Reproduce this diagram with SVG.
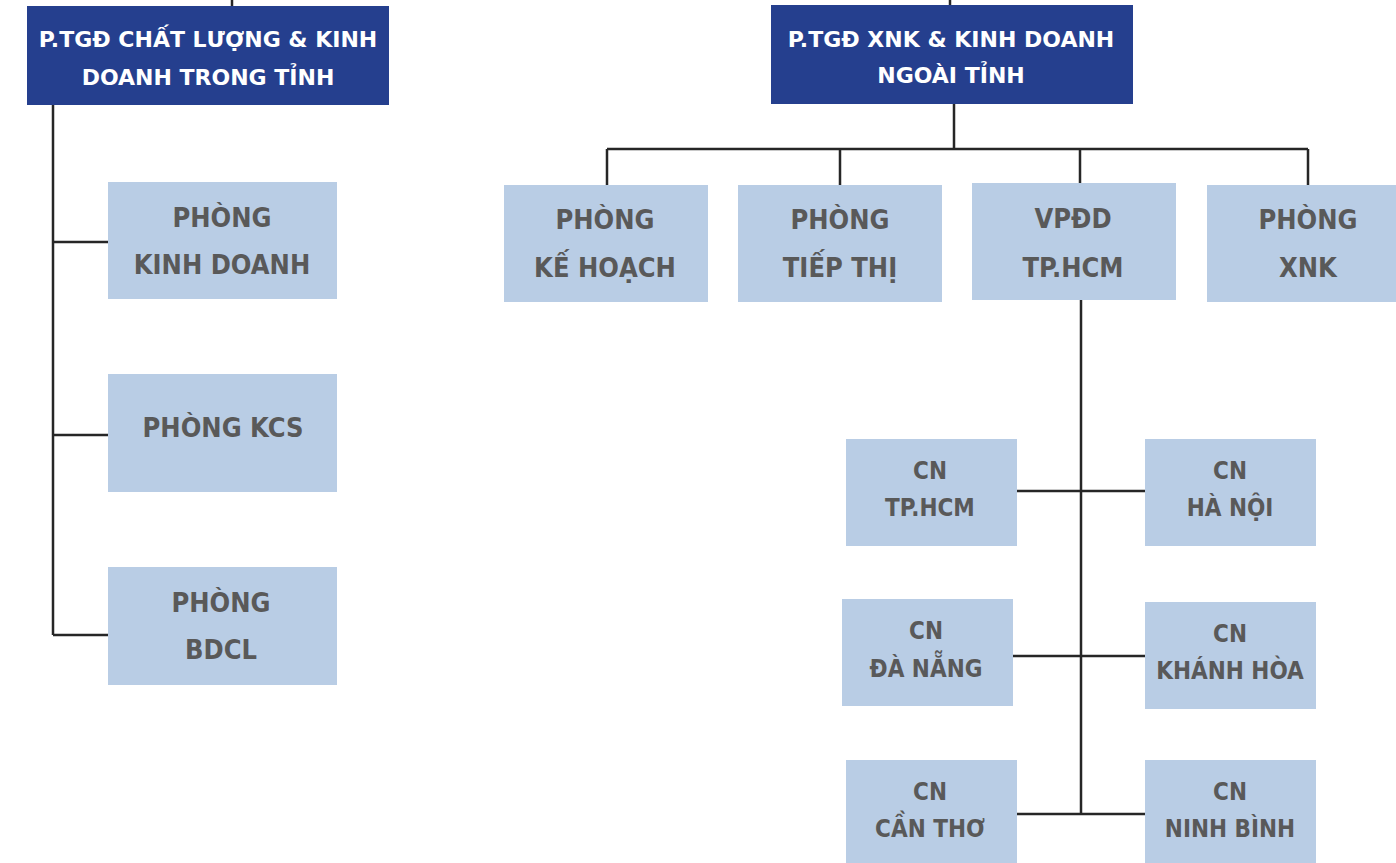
<svg xmlns="http://www.w3.org/2000/svg" width="1396" height="863" viewBox="0 0 1396 863">
<style>
.hd{fill:#253F8E}
.bx{fill:#B9CDE5}
.ht{font-family:"DejaVu Sans",sans-serif;font-weight:bold;font-size:22px;fill:#FFFFFF;text-anchor:middle}
.t{font-family:"DejaVu Sans Condensed","DejaVu Sans",sans-serif;font-stretch:condensed;font-weight:bold;font-size:27px;fill:#595959;text-anchor:middle}
.c{font-family:"DejaVu Sans Condensed","DejaVu Sans",sans-serif;font-stretch:condensed;font-weight:bold;font-size:24px;fill:#595959;text-anchor:middle}
.ln{stroke:#262626;stroke-width:2.5;fill:none}
</style>
<rect width="1396" height="863" fill="#FFFFFF"/>
<g id="connectors" class="ln">
<path d="M232 0V6"/>
<path d="M950 0V5"/>
<path d="M53 105V635M53 242H108M53 435H108M53 635H108"/>
<path d="M954 104V149M607 149H1308M607 149V185M840 149V185M1080 149V183M1308 149V185"/>
<path d="M1081 300V814M1017 491H1145M1013 656H1145M1017 814H1145"/>
</g>
<g id="hd1"><rect class="hd" x="27" y="6" width="362" height="99"/><text class="ht" x="208" y="47">P.TGĐ CHẤT LƯỢNG &amp; KINH</text><text class="ht" x="208" y="85">DOANH TRONG TỈNH</text></g>
<g id="hd2"><rect class="hd" x="771" y="5" width="362" height="99"/><text class="ht" x="951" y="47">P.TGĐ XNK &amp; KINH DOANH</text><text class="ht" x="951" y="83">NGOÀI TỈNH</text></g>
<g id="kd"><rect class="bx" x="108" y="182" width="229" height="117"/><text class="t" x="222" y="227">PHÒNG</text><text class="t" x="222" y="274">KINH DOANH</text></g>
<g id="kcs"><rect class="bx" x="108" y="374" width="229" height="118"/><text class="t" x="223" y="437">PHÒNG KCS</text></g>
<g id="bdcl"><rect class="bx" x="108" y="567" width="229" height="118"/><text class="t" x="221" y="612">PHÒNG</text><text class="t" x="221" y="659">BDCL</text></g>
<g id="kh"><rect class="bx" x="504" y="185" width="204" height="117"/><text class="t" x="605" y="229">PHÒNG</text><text class="t" x="605" y="277">KẾ HOẠCH</text></g>
<g id="tt"><rect class="bx" x="738" y="185" width="204" height="117"/><text class="t" x="840" y="229">PHÒNG</text><text class="t" x="840" y="277">TIẾP THỊ</text></g>
<g id="vpdd"><rect class="bx" x="972" y="183" width="204" height="117"/><text class="t" x="1073" y="228">VPĐD</text><text class="t" x="1073" y="277">TP.HCM</text></g>
<g id="xnk"><rect class="bx" x="1207" y="185" width="189" height="117"/><text class="t" x="1308" y="229">PHÒNG</text><text class="t" x="1308" y="277">XNK</text></g>
<g id="cnhcm"><rect class="bx" x="846" y="439" width="171" height="107"/><text class="c" x="930" y="479">CN</text><text class="c" x="930" y="516">TP.HCM</text></g>
<g id="cnhn"><rect class="bx" x="1145" y="439" width="171" height="107"/><text class="c" x="1230" y="479">CN</text><text class="c" x="1230" y="516">HÀ NỘI</text></g>
<g id="cndn"><rect class="bx" x="842" y="599" width="171" height="107"/><text class="c" x="926" y="639">CN</text><text class="c" x="926" y="677">ĐÀ NẴNG</text></g>
<g id="cnkh"><rect class="bx" x="1145" y="602" width="171" height="107"/><text class="c" x="1230" y="642">CN</text><text class="c" x="1230" y="679">KHÁNH HÒA</text></g>
<g id="cnct"><rect class="bx" x="846" y="760" width="171" height="103"/><text class="c" x="930" y="800">CN</text><text class="c" x="930" y="837">CẦN THƠ</text></g>
<g id="cnnb"><rect class="bx" x="1145" y="760" width="171" height="103"/><text class="c" x="1230" y="800">CN</text><text class="c" x="1230" y="837">NINH BÌNH</text></g>
</svg>
